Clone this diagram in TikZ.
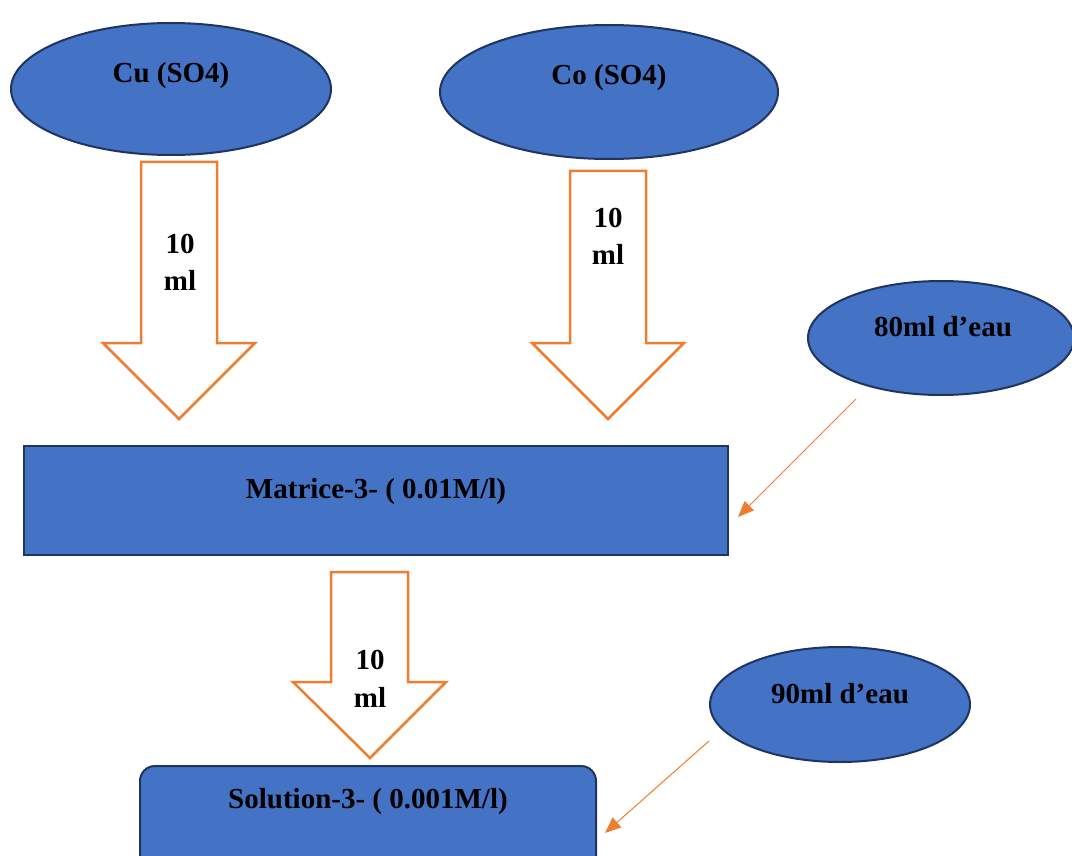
\documentclass[tikz,border=0pt]{standalone}
\usepackage{fontspec}
\setmainfont{Liberation Serif}
\usetikzlibrary{shapes.geometric,arrows.meta}
\definecolor{shapeblue}{HTML}{4472C4}
\definecolor{shapeedge}{HTML}{1E3562}
\definecolor{flowor}{HTML}{ED7D31}
\tikzset{
  blob/.style={ellipse,fill=shapeblue,draw=shapeedge,line width=2pt,inner sep=0pt},
  boxnode/.style={fill=shapeblue,draw=shapeedge,line width=2pt},
  lbl/.style={font=\bfseries\fontsize{29}{31}\selectfont,inner sep=0pt,anchor=center},
  bigarrow/.style={draw=flowor,fill=white,line width=2.5pt,line join=miter},
  thinarrow/.style={draw=flowor,line width=1pt,-{Triangle[length=16pt,width=13pt]}}
}
\begin{document}
\begin{tikzpicture}[x=1pt,y=-1pt]
\useasboundingbox (0,0) rectangle (1072,856);
\clip (0,0) rectangle (1072,856);
\fill[white] (0,0) rectangle (1072,856);

% source solutions
\node[blob,minimum width=320pt,minimum height=132pt] (cu) at (171,89) {};
\node[lbl] at (171,76) {Cu (SO4)};
\node[blob,minimum width=338pt,minimum height=134pt] (co) at (609,92) {};
\node[lbl] at (609,78) {Co (SO4)};

% block arrows carrying 10 ml
\draw[bigarrow] (141,162) -- (217,162) -- (217,343) -- (255,343) -- (179,419)
  -- (103,343) -- (141,343) -- cycle;
\node[lbl] (v1a) at (180,244) {10};
\node[lbl] (v1b) at (180,280) {ml};
\draw[bigarrow] (570,171) -- (646,171) -- (646,343) -- (684,343) -- (608,419)
  -- (532,343) -- (570,343) -- cycle;
\node[lbl] (v2a) at (608,218) {10};
\node[lbl] (v2b) at (608,254) {ml};

% water for the matrix
\node[blob,minimum width=266pt,minimum height=114pt] (w80) at (941,338) {};
\node[lbl] at (943,327) {80ml d’eau};

% matrix
\node[boxnode,minimum width=704pt,minimum height=109pt] (mat) at (376,500.5) {};
\node[lbl] at (376,492) {Matrice-3- ( 0.01M/l)};

\coordinate (w80out) at (856,399);
\coordinate (matin) at (738,517);
\draw[thinarrow] (w80out) -- (matin);

% block arrow to the dilution
\draw[bigarrow] (331,572) -- (408,572) -- (408,682) -- (446,682) -- (370,758)
  -- (293,682) -- (331,682) -- cycle;
\node[lbl] (v3a) at (370,660) {10};
\node[lbl] (v3b) at (370,697) {ml};

% water for the solution
\node[blob,minimum width=260pt,minimum height=115pt] (w90) at (840,704.5) {};
\node[lbl] at (840,694) {90ml d’eau};

% final solution
\draw[boxnode,rounded corners=15pt] (140,766) rectangle (596,880);
\node[lbl] (sol) at (368,802) {Solution-3- ( 0.001M/l)};

\coordinate (w90out) at (709,741);
\coordinate (solin) at (605,833);
\draw[thinarrow] (w90out) -- (solin);
\end{tikzpicture}
\end{document}
